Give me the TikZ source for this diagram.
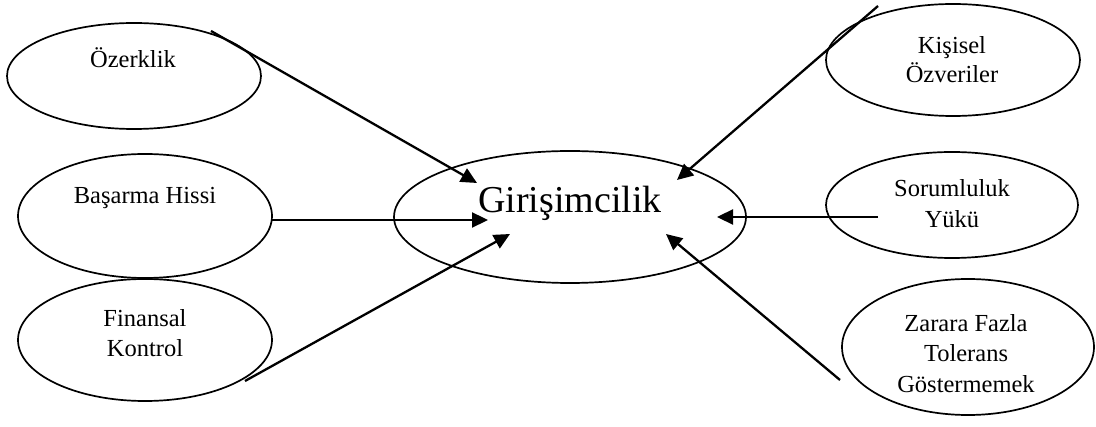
\documentclass[tikz,border=0pt]{standalone}
\usepackage{fontspec}
\setmainfont{Liberation Serif}
\usetikzlibrary{shapes.geometric,arrows.meta}
\begin{document}
\begin{tikzpicture}[x=1pt,y=-1pt,
  oval/.style={draw=black,line width=1.7pt,ellipse,inner sep=0pt},
  lbl/.style={anchor=base,inner sep=0pt,font=\fontsize{24.5}{30}\selectfont},
  big/.style={anchor=base,inner sep=0pt,font=\fontsize{38}{44}\selectfont},
  conn/.style={line width=2.3pt,-{Triangle[length=16pt,width=15pt]}}]
\useasboundingbox (0,0) rectangle (1096,427);
% ellipses
\node[oval,minimum width=254pt,minimum height=106pt] (ozer) at (134,76) {};
\node[oval,minimum width=254pt,minimum height=124pt] (basar) at (145,216) {};
\node[oval,minimum width=254pt,minimum height=122pt] (finans) at (145,340) {};
\node[oval,minimum width=254pt,minimum height=112pt] (kisi) at (953,60) {};
\node[oval,minimum width=252pt,minimum height=106pt] (sorum) at (952,205) {};
\node[oval,minimum width=252pt,minimum height=136pt] (zarar) at (968,347) {};
\node[oval,minimum width=352pt,minimum height=132pt] (giri) at (570,217) {};
% texts
\node[lbl] (tozer) at (133,68) {Özerklik};
\node[lbl] (tbasar) at (145,204) {Başarma Hissi};
\node[lbl] (tfin1) at (145,327) {Finansal};
\node[lbl] (tfin2) at (145,357) {Kontrol};
\node[lbl] (tkis1) at (952,54) {Kişisel};
\node[lbl] (tkis2) at (952,83) {Özveriler};
\node[lbl] (tsor1) at (952,197) {Sorumluluk};
\node[lbl] (tsor2) at (952,228) {Yükü};
\node[lbl] (tzar1) at (966,332) {Zarara Fazla};
\node[lbl] (tzar2) at (966,362) {Tolerans};
\node[lbl] (tzar3) at (966,393) {Göstermemek};
\node[big] (tgiri) at (570,213) {Girişimcilik};
% connector ends
\coordinate (s1) at (211,31);  \coordinate (e1) at (477,183);
\coordinate (s2) at (272,220); \coordinate (e2) at (488,220);
\coordinate (s3) at (245,381); \coordinate (e3) at (510,234);
\coordinate (s4) at (878,6);   \coordinate (e4) at (677,180);
\coordinate (s5) at (878,217); \coordinate (e5) at (717,217);
\coordinate (s6) at (840,380); \coordinate (e6) at (666,234);
\draw[conn] (s1) -- (e1);
\draw[conn] (s2) -- (e2);
\draw[conn] (s3) -- (e3);
\draw[conn] (s4) -- (e4);
\draw[conn] (s5) -- (e5);
\draw[conn] (s6) -- (e6);
\end{tikzpicture}
\end{document}
